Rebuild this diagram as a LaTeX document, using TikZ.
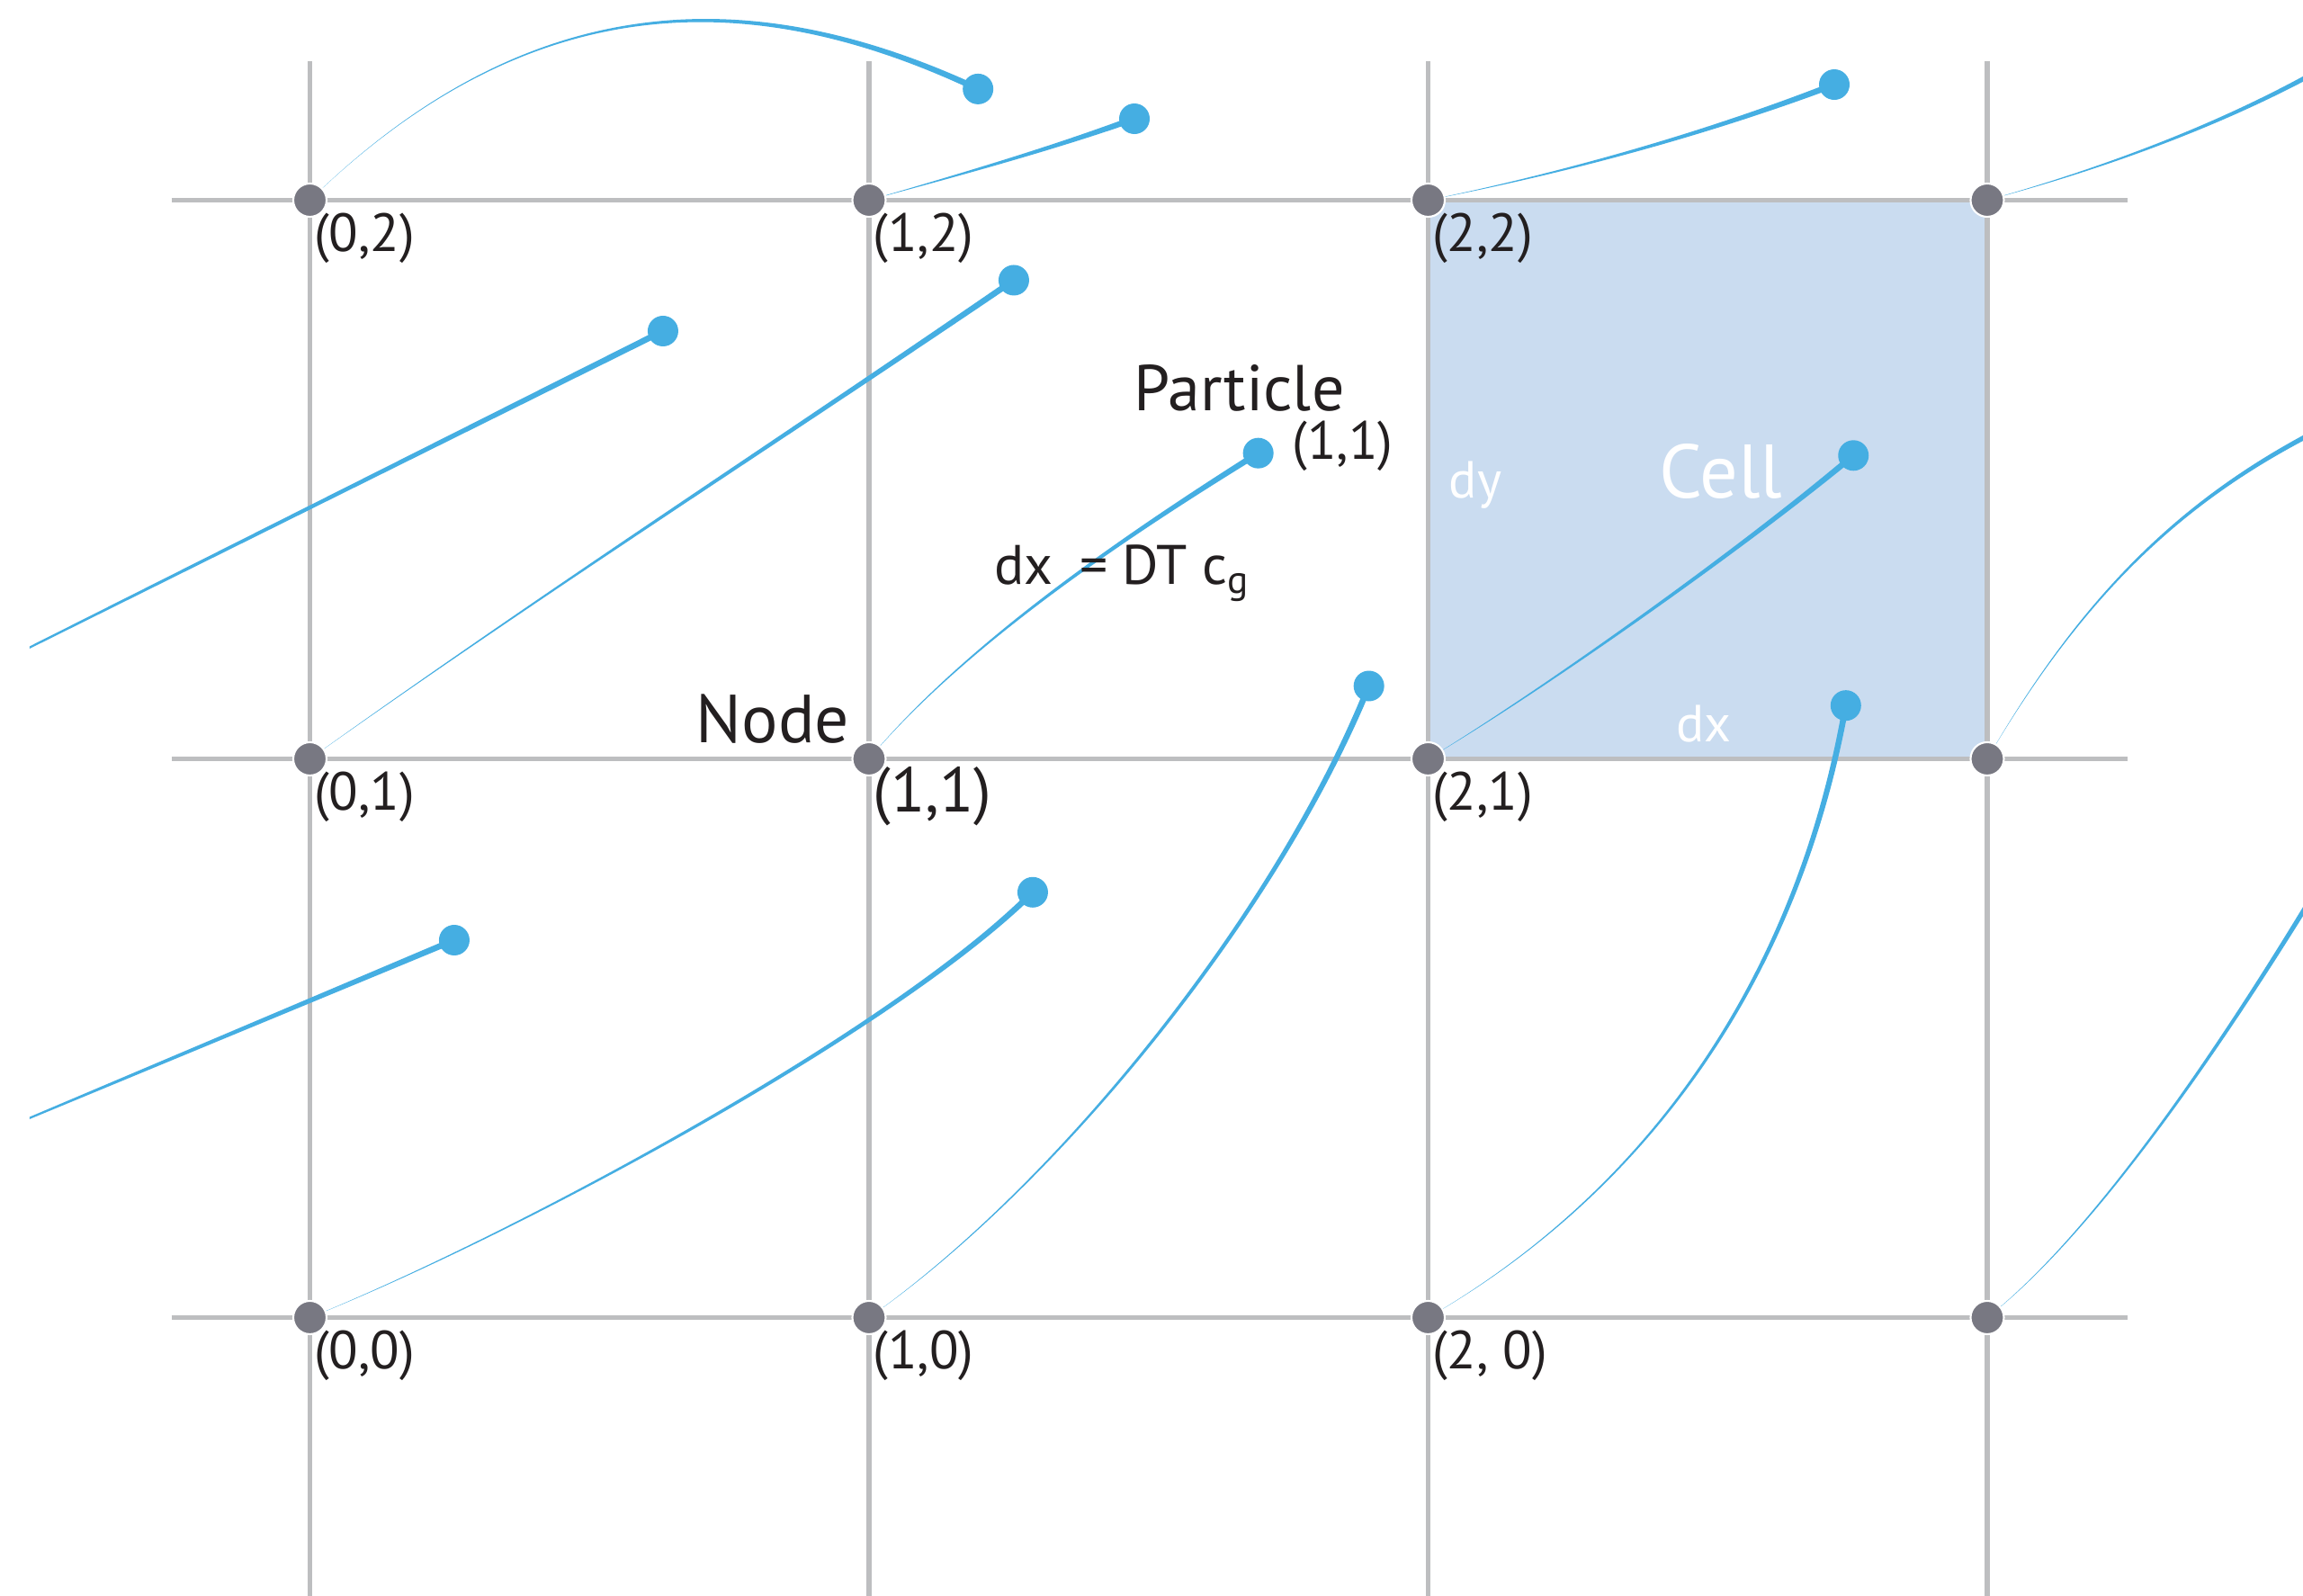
\documentclass[tikz,border=0pt]{standalone}
\usepackage{fontspec}
\setmainfont{PT Sans}
\usetikzlibrary{calc}
\definecolor{PartBlue}{HTML}{45AEE2}
\definecolor{CellBlue}{HTML}{CADCF0}
\definecolor{GridGray}{HTML}{BDBEC0}
\definecolor{NodeGray}{HTML}{787882}
\definecolor{InkBlack}{HTML}{231F20}
\pgfdeclarelayer{back}
\pgfdeclarelayer{mid}
\pgfsetlayers{back,mid,main}
% tapered streak: start, control 1, control 2, end
\newcommand{\flowstreak}[4]{%
  \fill[PartBlue] (#1.center)
    .. controls ($(#2)!0.011cm!-90:(#3)$) and ($(#3)!0.022cm!-90:(#4)$) .. ($(#4)!0.034cm!90:(#3)$)
    -- ($(#4)!0.034cm!-90:(#3)$)
    .. controls ($(#3)!0.022cm!90:(#4)$) and ($(#2)!0.011cm!90:(#3)$) .. (#1.center) -- cycle;}
\tikzset{
  gridline/.style={GridGray, line width=1.5pt},
  gridnode/.style={circle, fill=NodeGray, draw=white, line width=0.6pt, minimum size=0.37cm, inner sep=0pt},
  particle/.style={circle, fill=PartBlue, minimum size=0.34cm, inner sep=0pt},
  coordlab/.style={anchor=north west, inner sep=0pt, text=InkBlack, xshift=0.04cm, yshift=-0.14cm, font=\fontsize{17}{19}\selectfont},
  tag/.style={inner sep=0pt, text=InkBlack},
  celltag/.style={inner sep=0pt, text=white}
}

\begin{document}
\begin{tikzpicture}[x=6.215cm, y=6.21cm]
  \useasboundingbox (-0.5543,-0.4984) rectangle (3.5648,2.3583);
  % Mesh nodes
  \node[gridnode] (n00) at (0,0) {};
  \node[gridnode] (n10) at (1,0) {};
  \node[gridnode] (n20) at (2,0) {};
  \node[gridnode] (n30) at (3,0) {};
  \node[gridnode] (n01) at (0,1) {};
  \node[gridnode] (n11) at (1,1) {};
  \node[gridnode] (n21) at (2,1) {};
  \node[gridnode] (n31) at (3,1) {};
  \node[gridnode] (n02) at (0,2) {};
  \node[gridnode] (n12) at (1,2) {};
  \node[gridnode] (n22) at (2,2) {};
  \node[gridnode] (n32) at (3,2) {};
  % Particles
  \node[particle] (part1) at (1.195,2.199) {};
  \node[particle] (part2) at (1.4747,2.1457) {};
  \node[particle] (part3) at (2.7265,2.2069) {};
  \node[particle] (part4) at (0.6315,1.7657) {};
  \node[particle] (part5) at (1.259,1.8567) {};
  \node[particle] (part6) at (1.6962,1.5472) {};
  \node[particle] (part7) at (2.7607,1.543) {};
  \node[particle] (part8) at (0.2582,0.6755) {};
  \node[particle] (part9) at (1.2928,0.7612) {};
  \node[particle] (part10) at (1.8941,1.1304) {};
  \node[particle] (part11) at (2.7471,1.0955) {};
  % Streak ends outside the frame
  \coordinate (in1) at (-1.1,0.9);
  \coordinate (in2) at (-0.9,0.19);
  \coordinate (out1) at (3.72,2.31);
  \coordinate (out2) at (3.75,1.66);
  \coordinate (out3) at (3.68,0.92);
  % Background, cell and mesh lines
  \begin{pgfonlayer}{back}
    \fill[white] (-0.5543,-0.4984) rectangle (3.5648,2.3583);
    \fill[CellBlue] (n21.center) rectangle (n32.center);
    \draw[gridline] (-0.247,0) -- (3.251,0);
    \draw[gridline] (-0.247,1) -- (3.251,1);
    \draw[gridline] (-0.247,2) -- (3.251,2);
    \draw[gridline] (0,-0.4984) -- (0,2.2488);
    \draw[gridline] (1,-0.4984) -- (1,2.2488);
    \draw[gridline] (2,-0.4984) -- (2,2.2488);
    \draw[gridline] (3,-0.4984) -- (3,2.2488);
  \end{pgfonlayer}
  % Streaks: thin at the node, thick at the particle
  \begin{pgfonlayer}{mid}
    \clip (-0.5012,-0.4984) rectangle (3.5648,2.3583);
    \flowstreak{n02}{0.42,2.41}{0.83,2.37}{part1}
    \flowstreak{n12}{1.16,2.045}{1.32,2.09}{part2}
    \flowstreak{n22}{2.25,2.05}{2.5,2.12}{part3}
    \flowstreak{n32}{3.22,2.06}{3.5,2.16}{out1}
    \flowstreak{in1}{-0.5228,1.1886}{0.0543,1.4771}{part4}
    \flowstreak{n01}{0.42,1.3}{0.84,1.57}{part5}
    \flowstreak{n11}{1.18,1.2145}{1.484,1.4147}{part6}
    \flowstreak{n21}{2.2143,1.1288}{2.5692,1.3823}{part7}
    \flowstreak{n31}{3.21,1.36}{3.4255,1.5289}{out2}
    \flowstreak{in2}{-0.5139,0.3518}{-0.1279,0.5137}{part8}
    \flowstreak{n00}{0.3709,0.1498}{1.0453,0.5137}{part9}
    \flowstreak{n10}{1.3277,0.2294}{1.7255,0.7132}{part10}
    \flowstreak{n20}{2.3897,0.225}{2.6603,0.6031}{part11}
    \flowstreak{n30}{3.2364,0.1847}{3.53,0.6602}{out3}
  \end{pgfonlayer}
  % Node indices
  \node[coordlab] (t00) at (n00) {(0,0)};
  \node[coordlab] (t10) at (n10) {(1,0)};
  \node[coordlab] (t20) at (n20) {(2, 0)};
  \node[coordlab] (t01) at (n01) {(0,1)};
  \node[coordlab, yshift=0.06cm, font=\fontsize{20}{22}\selectfont] (t11) at (n11) {(1,1)};
  \node[coordlab] (t21) at (n21) {(2,1)};
  \node[coordlab] (t02) at (n02) {(0,2)};
  \node[coordlab] (t12) at (n12) {(1,2)};
  \node[coordlab] (t22) at (n22) {(2,2)};
  % Annotations
  \node[tag, anchor=base east, font=\fontsize{21.5}{24}\selectfont] (nodetag) at (0.9662,1.0282) {Node};
  \node[tag, anchor=base, font=\fontsize{20.5}{23}\selectfont] (parttag) at (1.6624,1.6239) {Particle};
  \node[tag, anchor=west, font=\fontsize{17}{19}\selectfont] (partidx) at (1.7557,1.5601) {(1,1)};
  \node[tag, anchor=base west, font=\fontsize{17.6}{20}\selectfont] (steptag) at (1.2228,1.3116) {dx\hspace{0.3cm}= DT c\textsubscript{g}};
  \node[celltag, anchor=base west, font=\fontsize{16.5}{19}\selectfont] (dytag) at (2.0366,1.4662) {dy};
  \node[celltag, anchor=base west, font=\fontsize{24}{27}\selectfont] (celltag) at (2.4116,1.4662) {Cell};
  \node[celltag, anchor=base west, font=\fontsize{16.5}{19}\selectfont] (dxtag) at (2.4425,1.0298) {dx};
\end{tikzpicture}
\end{document}
